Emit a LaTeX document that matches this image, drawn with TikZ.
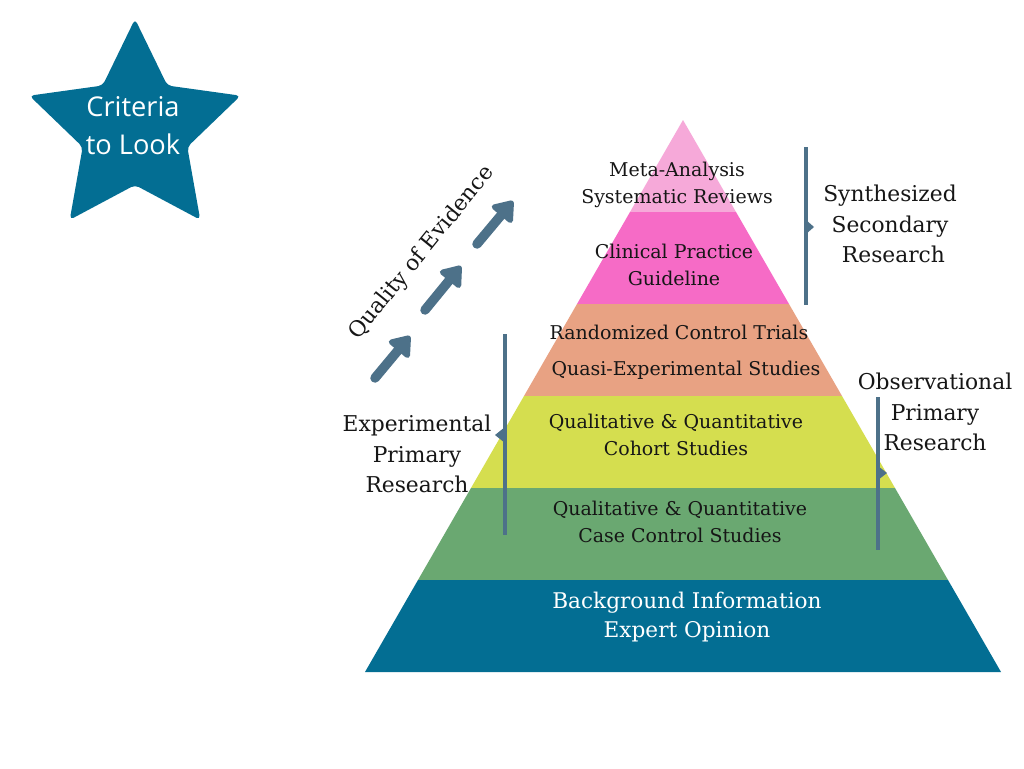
\documentclass[tikz,border=0pt]{standalone}
\usepackage{fontspec}
\setmainfont{DejaVu Serif}
\newfontfamily\starfont{Open Sans}
\usepackage{xcolor}
\usetikzlibrary{arrows.meta}

\definecolor{pinkA}{HTML}{F6A9D9}
\definecolor{pinkB}{HTML}{F66BC6}
\definecolor{salmon}{HTML}{E8A283}
\definecolor{lime}{HTML}{D5DE4F}
\definecolor{leaf}{HTML}{6AA871}
\definecolor{deepteal}{HTML}{036E93}
\definecolor{slate}{HTML}{4D7189}
\definecolor{ink}{HTML}{161616}

\tikzset{
  lvl/.style={align=center,inner sep=0pt,text=ink,font=\fontsize{10.8}{15.3}\selectfont},
  side/.style={align=center,inner sep=0pt,text=ink,font=\fontsize{12.4}{17.3}\selectfont},
  brk/.style={draw=slate,line width=2.3pt},
  qarrow/.style={draw=slate,line width=5.4pt,line cap=round,
    -{Triangle[width=17pt,length=12pt,round]}}
}

\begin{document}
\begin{tikzpicture}[x=0.02cm,y=-0.02cm,>=Latex]
  \fill[white] (0,0) rectangle (1024,768);
  \useasboundingbox (0,0) rectangle (1024,768);

  % star
  \fill[deepteal,rounded corners=2.5pt] (135,19)
    \foreach \k [evaluate=\k as \r using {mod(\k,2)==0 ? 111 : 55}] in {1,...,9}
      { -- ({135+\r*cos(90+36*\k)},{130-\r*sin(90+36*\k)}) } -- cycle;
  \node[align=center,inner sep=0pt,text=white,
    font=\starfont\fontsize{15.5}{21.5}\selectfont] (crit) at (133,126) {Criteria\\to Look};

  % pyramid layers
  \foreach \c [count=\i from 0] in {pinkA,pinkB,salmon,lime,leaf,deepteal} {
    \pgfmathsetmacro\ya{120+92*\i}
    \pgfmathsetmacro\yb{212+92*\i}
    \pgfmathsetmacro\wa{0.5761*(\ya-120)}
    \pgfmathsetmacro\wb{0.5761*(\yb-120)}
    \fill[\c] ({683-\wa},\ya) -- ({683+\wa},\ya) -- ({683+\wb},\yb) -- ({683-\wb},\yb) -- cycle;
  }

  \node[lvl] (meta) at (677,185) {Meta-Analysis\\Systematic Reviews};
  \node[lvl] (cpg) at (674,265) {Clinical Practice\\Guideline};
  \node[lvl] (rct) at (679,332) {Randomized Control Trials};
  \node[lvl] (quasi) at (686,370) {Quasi-Experimental Studies};
  \node[lvl] (cohort) at (676,435) {Qualitative \& Quantitative\\Cohort Studies};
  \node[lvl] (case) at (680,522) {Qualitative \& Quantitative\\Case Control Studies};
  \node[lvl,text=white,font=\fontsize{12.3}{17}\selectfont] (bg) at (687,617)
    {Background Information\\Expert Opinion};

  % brackets
  \draw[brk] (806,147) -- (806,305);
  \fill[slate] (806,220) -- (814,227) -- (806,234) -- cycle;
  \node[side] (synth) at (890,224) {Synthesized\\Secondary\\~Research};

  \draw[brk] (505,334) -- (505,535);
  \fill[slate] (505,427) -- (495,435) -- (505,443) -- cycle;
  \node[side] (exper) at (417,454) {Experimental\\Primary\\Research};

  \draw[brk] (878,397) -- (878,550);
  \fill[slate] (878,466) -- (887,473) -- (878,480) -- cycle;
  \node[side] (obs) at (935,412) {Observational\\Primary\\Research};

  % quality arrows
  \coordinate (qa1) at (375,378);
  \coordinate (qb1) at (410,336);
  \coordinate (qa2) at (425,310);
  \coordinate (qb2) at (461,266);
  \coordinate (qa3) at (477,244);
  \coordinate (qb3) at (513,201);
  \foreach \i in {1,2,3}
    \draw[qarrow] (qa\i) -- (qb\i);
  \node[side,rotate=51] (qual) at (422,253) {Quality of Evidence};
\end{tikzpicture}
\end{document}
